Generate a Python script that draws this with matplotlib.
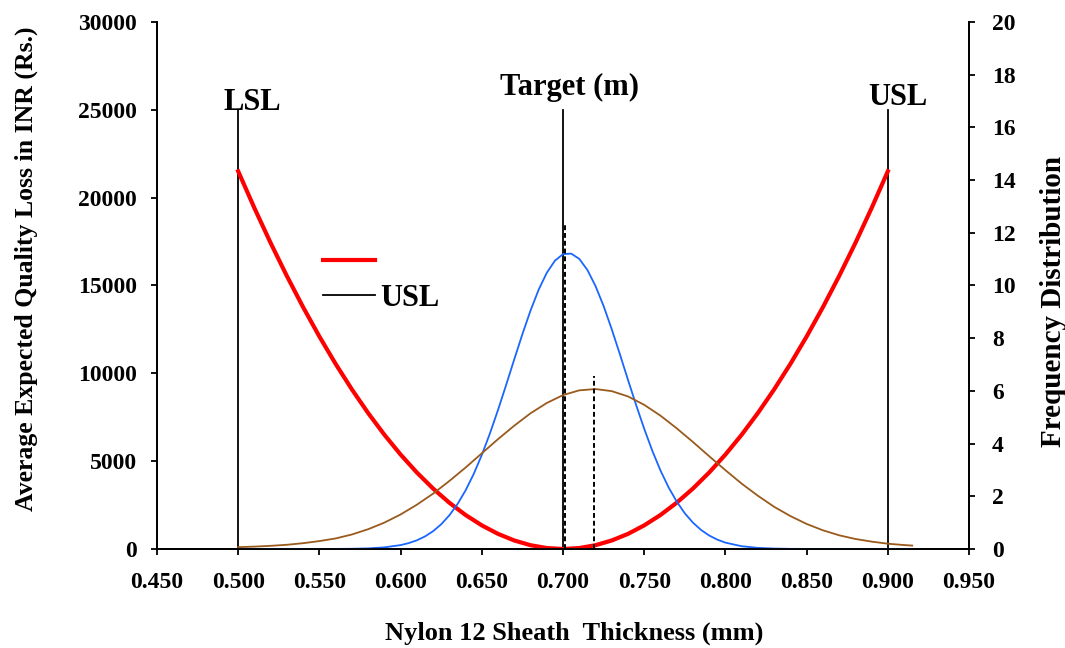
import matplotlib
matplotlib.use("Agg")
import matplotlib.pyplot as plt
from matplotlib.lines import Line2D

plt.rcParams['font.family'] = ['Liberation Serif', 'DejaVu Serif']
plt.rcParams['font.weight'] = 'bold'

# thickness grid (mm)
x_loss = [0.50, 0.51, 0.52, 0.53, 0.54, 0.55, 0.56, 0.57, 0.58, 0.59, 0.60,
          0.61, 0.62, 0.63, 0.64, 0.65, 0.66, 0.67, 0.68, 0.69, 0.70,
          0.71, 0.72, 0.73, 0.74, 0.75, 0.76, 0.77, 0.78, 0.79, 0.80,
          0.81, 0.82, 0.83, 0.84, 0.85, 0.86, 0.87, 0.88, 0.89, 0.90]
# average expected quality loss (Rs.)
loss = [21500, 19404, 17415, 15534, 13760, 12094, 10535, 9084, 7740, 6504, 5375,
        4354, 3440, 2634, 1935, 1344, 860, 484, 215, 54, 0,
        54, 215, 484, 860, 1344, 1935, 2634, 3440, 4354, 5375,
        6504, 7740, 9084, 10535, 12094, 13760, 15534, 17415, 19404, 21500]

# frequency distribution (narrow, blue)
x_blue = [0.50, 0.52, 0.54, 0.55, 0.56, 0.57, 0.58, 0.59, 0.60, 0.605,
          0.61, 0.615, 0.62, 0.625, 0.63, 0.635, 0.64, 0.645, 0.65, 0.655,
          0.66, 0.665, 0.67, 0.675, 0.68, 0.685, 0.69, 0.695, 0.70, 0.705,
          0.71, 0.715, 0.72, 0.725, 0.73, 0.735, 0.74, 0.745, 0.75, 0.755,
          0.76, 0.765, 0.77, 0.775, 0.78, 0.785, 0.79, 0.795, 0.80, 0.81,
          0.82, 0.83, 0.84, 0.85, 0.86, 0.88, 0.90, 0.915]
freq_blue = [0.0, 0.0, 0.0, 0.001, 0.003, 0.008, 0.023, 0.061, 0.148, 0.223,
             0.329, 0.476, 0.675, 0.938, 1.276, 1.701, 2.222, 2.845, 3.568, 4.385,
             5.280, 6.229, 7.200, 8.154, 9.049, 9.84, 10.48, 10.94, 11.19, 11.21,
             11.01, 10.59, 9.98, 9.22, 8.34, 7.394, 6.42, 5.467, 4.56, 3.725,
             2.98, 2.339, 1.80, 1.353, 1.00, 0.722, 0.511, 0.355, 0.241, 0.105,
             0.042, 0.016, 0.005, 0.002, 0.0, 0.0, 0.0, 0.0]

# frequency distribution (wide, brown)
x_brown = [0.50, 0.51, 0.52, 0.53, 0.54, 0.55, 0.56, 0.57, 0.58, 0.59, 0.60,
           0.61, 0.62, 0.63, 0.64, 0.65, 0.66, 0.67, 0.68, 0.69, 0.70,
           0.71, 0.72, 0.73, 0.74, 0.75, 0.76, 0.77, 0.78, 0.79, 0.80,
           0.81, 0.82, 0.83, 0.84, 0.85, 0.86, 0.87, 0.88, 0.89, 0.90, 0.91, 0.915]
freq_brown = [0.07, 0.09, 0.12, 0.16, 0.22, 0.30, 0.40, 0.55, 0.75, 1.00, 1.31,
              1.68, 2.10, 2.58, 3.09, 3.63, 4.17, 4.68, 5.15, 5.54, 5.84,
              6.02, 6.07, 5.99, 5.79, 5.47, 5.06, 4.58, 4.06, 3.52, 2.99,
              2.48, 2.02, 1.60, 1.25, 0.95, 0.71, 0.52, 0.38, 0.28, 0.20, 0.15, 0.13]

mean_blue, mean_blue_top = 0.7015, 12.3
mean_brown, mean_brown_top = 0.719, 6.55

spec_x = [0.5, 0.7, 0.9]
spec_top = 25000
spec_labels = ["LSL", "Target (m)", "USL"]
spec_label_pos = [(0.5086, 25400), (0.704, 26300), (0.9059, 25700)]

fig = plt.figure(figsize=(10.65, 6.48), dpi=100)
ax = fig.add_axes([0.1474, 0.1528, 0.7625, 0.8133])
ax2 = ax.twinx()

ax.plot(x_loss, loss, color='#ff0000', lw=3.0, zorder=3)
for sx in spec_x:
    ax.plot([sx, sx], [0, spec_top], color='black', lw=1.3, zorder=2)
for (lx, ly), lab in zip(spec_label_pos, spec_labels):
    ax.text(lx, ly, lab, ha='center', va='center', fontsize=22, fontweight='bold')

ax2.plot(x_blue, freq_blue, color='#1a66ff', lw=1.3)
ax2.plot(x_brown, freq_brown, color='#9a5a1c', lw=1.3)
ax2.plot([mean_blue, mean_blue], [0, mean_blue_top], color='black', lw=1.4, ls=(0, (2.5, 1.5)))
ax2.plot([mean_brown, mean_brown], [0, mean_brown_top], color='black', lw=1.4, ls=(0, (2.5, 1.5)))

ax.set_xlim(0.45, 0.95)
ax.set_ylim(0, 30000)
ax2.set_ylim(0, 20)
ax.set_xticks([0.45 + 0.05 * i for i in range(11)])
ax.set_xticklabels(["%.3f" % (0.45 + 0.05 * i) for i in range(11)])
ax.set_yticks(range(0, 30001, 5000))
ax2.set_yticks(range(0, 21, 2))

for a in (ax, ax2):
    a.spines['top'].set_visible(False)
    for s in a.spines.values():
        s.set_linewidth(1.3)
ax.tick_params(axis='x', direction='out', length=4.5, width=1.3, pad=12, labelsize=17)
ax.tick_params(axis='y', direction='out', length=4.5, width=1.3, pad=10, labelsize=17)
ax2.tick_params(axis='y', direction='out', length=4.5, width=1.3, pad=12, labelsize=17)

ax.set_xlabel("Nylon 12 Sheath  Thickness (mm)", fontsize=19, fontweight='bold')
ax.set_ylabel("Average Expected Quality Loss in INR (Rs.)", fontsize=18.5, fontweight='bold')
ax2.set_ylabel("Frequency Distribution", fontsize=21, fontweight='bold')
ax.xaxis.set_label_coords(0.5135, -0.138)
ax.yaxis.set_label_coords(-0.147, 0.531)
ax2.yaxis.set_label_coords(1.087, 0.47)

handles = [Line2D([], [], color='#ff0000', lw=3.0), Line2D([], [], color='black', lw=1.3)]
ax.legend(handles, [" ", "USL"], loc='upper left', bbox_to_anchor=(0.205, 0.57),
          frameon=False, fontsize=22, handlelength=1.7, handletextpad=0.15,
          labelspacing=0.2, borderpad=0, borderaxespad=0)

fig.savefig("out.png", dpi=100)
